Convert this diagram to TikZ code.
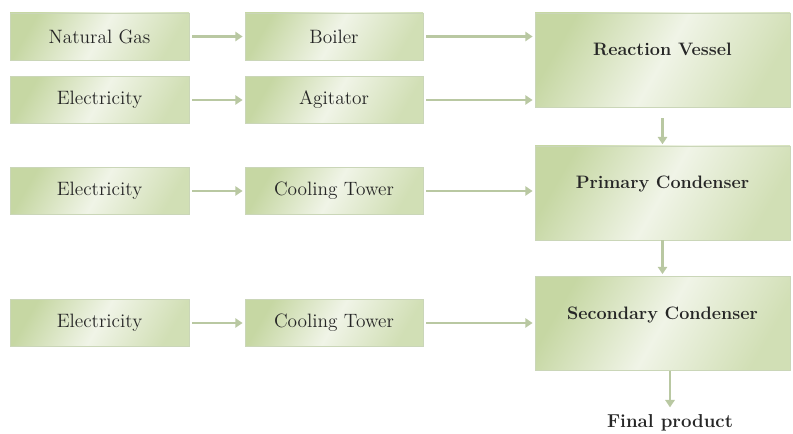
\documentclass[tikz,border=0pt]{standalone}
\usepackage{xcolor}
\usepackage{tikz}
\usetikzlibrary{positioning, calc, arrows.meta}

\definecolor{boxdark}{HTML}{C6D7A3}
\definecolor{boxlight}{HTML}{F0F4E7}
\definecolor{boxline}{HTML}{CAD6B8}
\definecolor{flowgreen}{HTML}{B9C8A2}

\tikzset{
    unitbox/.style={draw=boxline, line width=0.6pt,
        left color=boxdark, right color=boxdark!80, middle color=boxlight,
        shading angle=60,
        font=\fontsize{14.5}{16}\selectfont, text=black!85},
    srcbox/.style={unitbox, minimum width=179*0.75pt, minimum height=47*0.75pt},
    mainbox/.style={unitbox, minimum width=255*0.75pt, minimum height=94*0.75pt,
        font=\fontsize{13.5}{15}\selectfont\bfseries, text height=9pt, text depth=15pt},
    flow/.style={draw=flowgreen, line width=1.6pt,
        -{Triangle[width=7pt,length=5.5pt]}}
}

\begin{document}
\begin{tikzpicture}[x=0.75pt, y=-0.75pt]
        \useasboundingbox (0,0) rectangle (793,434);

        % 1. Energy sources on the left
        \node[srcbox] (gas)   at (99.5,36.5) {Natural Gas};
        \node[srcbox] (elecA) at (99.5,100)  {Electricity};
        \node[srcbox] (elecB) at (99.5,191)  {Electricity};
        \node[srcbox] (elecC) at (99.5,323)  {Electricity};

        % 2. Utilities in the middle column
        \node[srcbox, minimum width=178*0.75pt] (boiler)   at (334,36.5) {Boiler};
        \node[srcbox, minimum width=178*0.75pt] (agitator) at (334,100)  {Agitator};
        \node[srcbox, minimum width=178*0.75pt] (coolA)    at (334,191)  {Cooling Tower};
        \node[srcbox, minimum width=178*0.75pt] (coolB)    at (334,323)  {Cooling Tower};

        % 3. Process units on the right
        \node[mainbox] (vessel)    at (662.5,60)    {Reaction Vessel};
        \node[mainbox] (primary)   at (662.5,193)   {Primary Condenser};
        \node[mainbox] (secondary) at (662.5,323.5) {Secondary Condenser};
        \node[font=\fontsize{14}{16}\selectfont\bfseries, text=black!85] (final) at (670,423) {Final product};

        % 4. Sources feed the utilities
        \foreach \src/\dst in {gas/boiler, elecA/agitator, elecB/coolA, elecC/coolB}
            \draw[flow, shorten <=2pt, shorten >=1.5pt] (\src.east) -- (\dst.west);

        % 5. Utilities feed the process units
        \draw[flow, shorten <=2pt, shorten >=1.5pt] (boiler.east) -- (boiler.east -| vessel.west);
        \draw[flow, shorten <=2pt, shorten >=1.5pt] (agitator.east) -- (agitator.east -| vessel.west);
        \draw[flow, shorten <=2pt, shorten >=1.5pt] (coolA.east) -- (coolA.east -| primary.west);
        \draw[flow, shorten <=2pt, shorten >=1.5pt] (coolB.east) -- (coolB.east -| secondary.west);

        % 6. Main process line going down
        \draw[flow, shorten <=8pt, shorten >=1pt] (vessel.south) -- (primary.north);
        \draw[flow, shorten >=1.5pt] (primary.south) -- (secondary.north);
        \draw[flow, shorten >=2pt] (final.north |- secondary.south) -- (final.north);

    \end{tikzpicture}
\end{document}
